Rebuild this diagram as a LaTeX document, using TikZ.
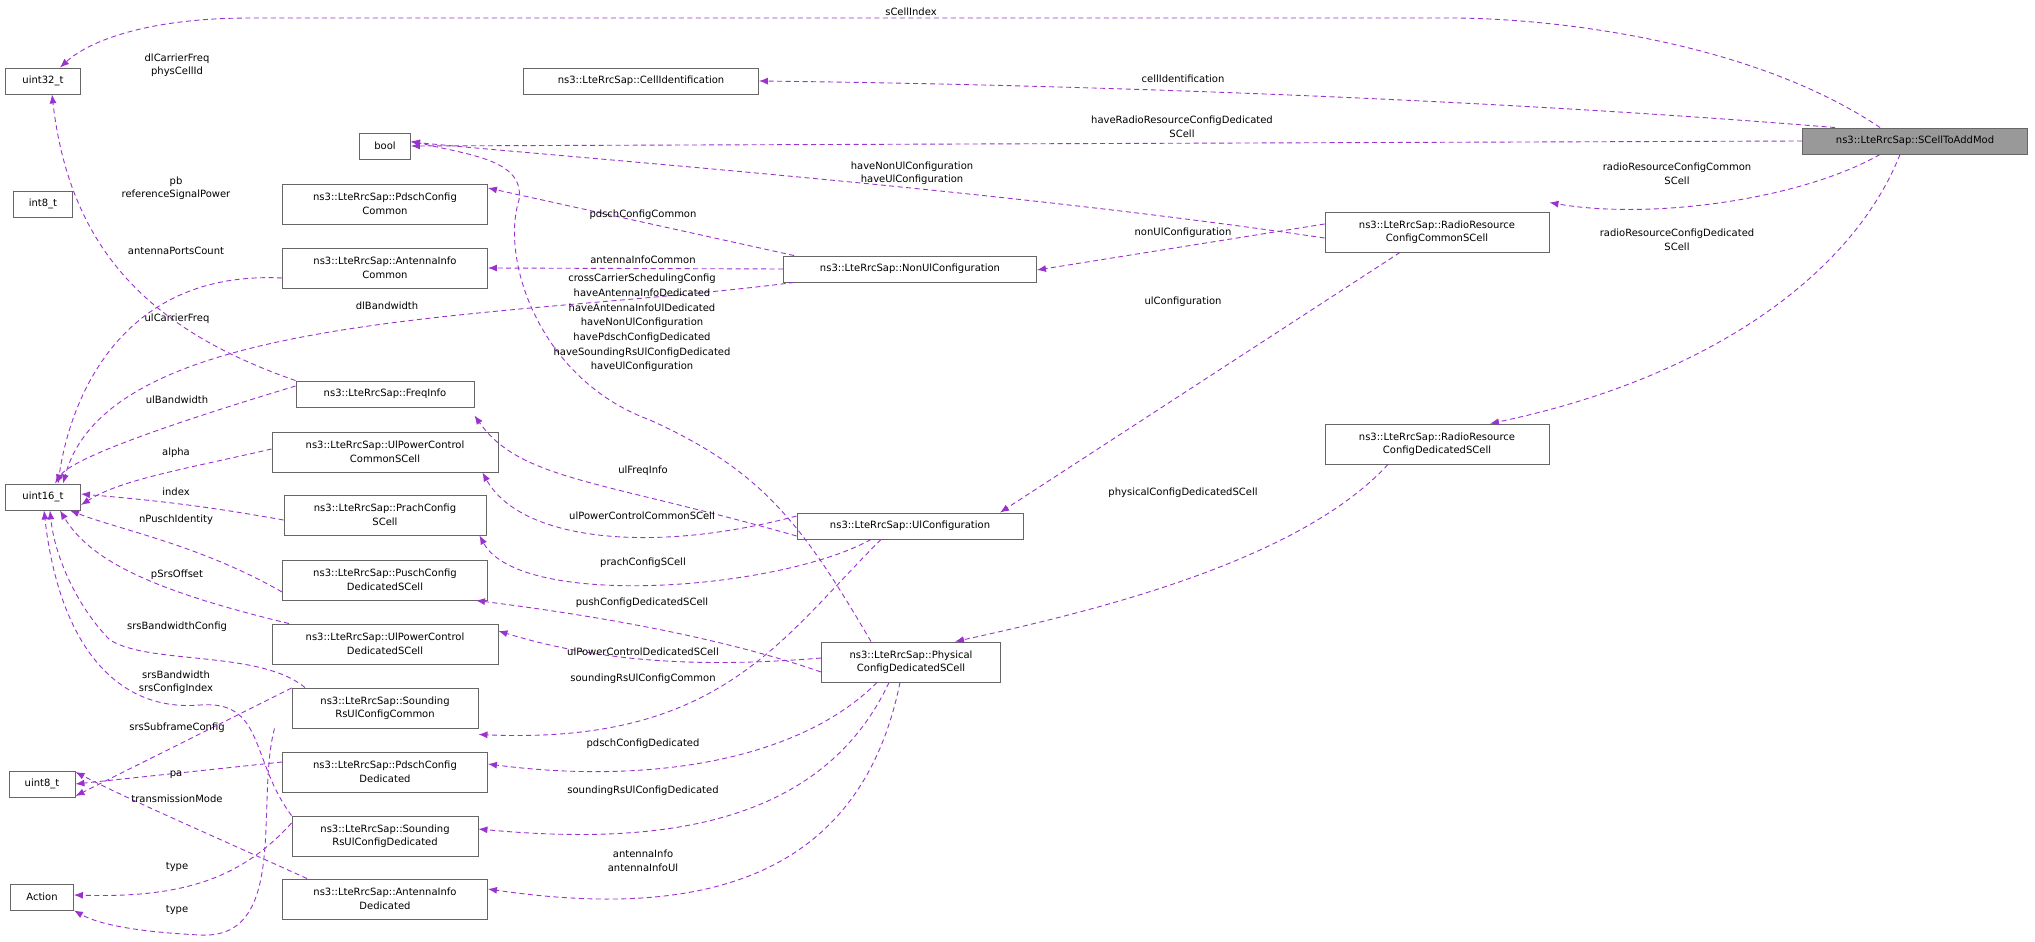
\documentclass[tikz,border=0pt]{standalone}
\usepackage{fontspec}
\setmainfont{DejaVu Sans}
\usetikzlibrary{arrows.meta}
\definecolor{edgec}{HTML}{9A32CD}
\definecolor{boxc}{HTML}{666666}
\begin{document}
\begin{tikzpicture}[x=1pt,y=-1pt,
  every node/.style={font=\fontsize{10}{13.5}\selectfont},
  cls/.style={draw=boxc,line width=0.9pt,fill=white,inner sep=2pt,align=center,minimum height=26pt},
  cls2/.style={cls,minimum height=40pt},
  lbl/.style={align=center,inner sep=0pt},
  edge/.style={draw=edgec,dashed,dash pattern=on 5pt off 3.5pt,line width=0.9pt,-{Latex[length=9pt,width=7pt]}}]
\useasboundingbox (0,0) rectangle (2035,942);
% nodes
\node[cls,minimum width=75pt] (u32) at (43,81) {uint32\_t};
\node[cls,minimum width=235pt] (cid) at (641,81) {ns3::LteRrcSap::CellIdentification};
\node[cls,minimum width=225pt,fill={rgb,255:red,153;green,153;blue,153}] (sc) at (1915,141) {ns3::LteRrcSap::SCellToAddMod};
\node[cls,minimum width=51pt] (bool) at (385,146) {bool};
\node[cls,minimum width=59pt] (i8) at (43,204) {int8\_t};
\node[cls2,minimum width=205pt] (pcc) at (385,204) {ns3::LteRrcSap::PdschConfig\\Common};
\node[cls2,minimum width=205pt] (aic) at (385,268) {ns3::LteRrcSap::AntennaInfo\\Common};
\node[cls,minimum width=253pt] (nonul) at (910,269) {ns3::LteRrcSap::NonUlConfiguration};
\node[cls2,minimum width=224pt] (rrc) at (1437,232) {ns3::LteRrcSap::RadioResource\\ConfigCommonSCell};
\node[cls2,minimum width=224pt] (rrd) at (1437,444) {ns3::LteRrcSap::RadioResource\\ConfigDedicatedSCell};
\node[cls,minimum width=178pt] (fi) at (385,394) {ns3::LteRrcSap::FreqInfo};
\node[cls,minimum width=75pt] (u16) at (43,497) {uint16\_t};
\node[cls2,minimum width=226pt] (upcc) at (385,452) {ns3::LteRrcSap::UlPowerControl\\CommonSCell};
\node[cls2,minimum width=202pt] (pra) at (385,515) {ns3::LteRrcSap::PrachConfig\\SCell};
\node[cls2,minimum width=205pt] (pus) at (385,580) {ns3::LteRrcSap::PuschConfig\\DedicatedSCell};
\node[cls2,minimum width=226pt] (upcd) at (385,644) {ns3::LteRrcSap::UlPowerControl\\DedicatedSCell};
\node[cls2,minimum width=186pt] (src) at (385,708) {ns3::LteRrcSap::Sounding\\RsUlConfigCommon};
\node[cls,minimum width=66pt] (u8) at (42,784) {uint8\_t};
\node[cls2,minimum width=205pt] (pdd) at (385,772) {ns3::LteRrcSap::PdschConfig\\Dedicated};
\node[cls2,minimum width=186pt] (srd) at (385,836) {ns3::LteRrcSap::Sounding\\RsUlConfigDedicated};
\node[cls,minimum width=63pt] (act) at (42,897) {Action};
\node[cls2,minimum width=205pt] (aid) at (385,899) {ns3::LteRrcSap::AntennaInfo\\Dedicated};
\node[cls,minimum width=226pt] (ulc) at (910,526) {ns3::LteRrcSap::UlConfiguration};
\node[cls2,minimum width=179pt] (phy) at (911,662) {ns3::LteRrcSap::Physical\\ConfigDedicatedSCell};
% edges
\begin{scope}[on background layer/.style={}]
\draw[edge] ([xshift=-35pt]sc.north) .. controls (1750,40) and (1550,18) .. (1450,18) -- (250,18) .. controls (150,18) and (90,40) .. ([xshift=17pt]u32.north);
\draw[edge] ([xshift=-80pt]sc.north) .. controls (1500,100) and (1100,85) .. (cid.east);
\draw[edge] (sc.west) -- (bool.east);
\draw[edge] ([xshift=-35pt]sc.south) .. controls (1800,200) and (1650,220) .. ([yshift=9pt]rrc.north east);
\draw[edge] ([xshift=-15pt]sc.south) .. controls (1850,280) and (1700,380) .. ([xshift=53pt]rrd.north);
\draw[edge] ([yshift=-6pt]rrc.west) .. controls (1000,190) and (600,160) .. ([yshift=4pt]bool.east);
\draw[edge] ([yshift=8pt]rrc.west) -- ([yshift=-1pt]nonul.east);
\draw[edge] ([xshift=-37pt]rrc.south) -- ([xshift=90pt]ulc.north);
\draw[edge] ([xshift=-49pt]rrd.south) .. controls (1300,560) and (1100,610) .. ([xshift=44pt]phy.north);
\draw[edge] ([xshift=11pt]nonul.north west) -- ([yshift=16pt]pcc.east);
\draw[edge] (nonul.west) -- (aic.east);
\draw[edge] ([xshift=11pt]nonul.south west) .. controls (500,320) and (110,310) .. ([xshift=20pt]u16.north);
\draw[edge] (fi.north west) .. controls (150,330) and (70,250) .. ([xshift=9pt]u32.south);
\draw[edge] ([yshift=-10pt]aic.west) .. controls (120,270) and (70,400) .. ([xshift=15pt]u16.north);
\draw[edge] ([yshift=8pt]fi.west) .. controls (150,430) and (70,460) .. ([xshift=12pt]u16.north);
\draw[edge] ([yshift=3pt]upcc.west) .. controls (180,470) and (120,480) .. ([yshift=-8pt]u16.east);
\draw[edge] ([yshift=-5pt]pra.west) .. controls (200,505) and (150,500) .. ([yshift=3pt]u16.east);
\draw[edge] ([yshift=-12pt]pus.west) .. controls (200,545) and (120,530) .. ([xshift=27pt]u16.south);
\draw[edge] ([xshift=-96pt]upcd.north) .. controls (150,590) and (90,560) .. ([xshift=17pt]u16.south);
\draw[edge] ([xshift=-80pt]src.north) .. controls (260,650) and (150,665) .. (110,640) .. controls (80,610) and (55,560) .. ([xshift=7pt]u16.south);
\draw[edge] (srd.north west) .. controls (250,760) and (265,700) .. (200,705) .. controls (120,712) and (60,650) .. ([xshift=1pt]u16.south);
\draw[edge] ([yshift=-10pt]ulc.west) .. controls (600,480) and (520,480) .. ([yshift=-8pt]fi.south east);
\draw[edge] ([yshift=10pt]ulc.west) .. controls (650,555) and (520,540) .. ([xshift=-16pt]upcc.south east);
\draw[edge] ([xshift=-39pt]ulc.south) .. controls (780,590) and (520,610) .. ([xshift=-7pt]pra.south east);
\draw[edge] ([xshift=-29pt]ulc.south) .. controls (780,640) and (720,745) .. ([yshift=-6pt]src.south east);
\draw[edge] ([xshift=-40pt]phy.north) .. controls (800,520) and (760,470) .. (650,420) .. controls (540,380) and (500,260) .. (519,200) .. controls (525,160) and (470,155) .. ([yshift=5pt]bool.east);
\draw[edge] ([yshift=-10pt]phy.west) .. controls (700,630) and (550,610) .. ([xshift=-12pt]pus.south east);
\draw[edge] ([yshift=4pt]phy.west) .. controls (700,668) and (600,662) .. ([yshift=13pt]upcd.east);
\draw[edge] ([xshift=-34pt]phy.south) .. controls (800,760) and (650,785) .. ([yshift=8pt]pdd.east);
\draw[edge] ([xshift=-22pt]phy.south) .. controls (820,830) and (650,845) .. ([yshift=7pt]srd.east);
\draw[edge] ([xshift=-11pt]phy.south) .. controls (860,880) and (700,920) .. ([yshift=10pt]aid.east);
\draw[edge] ([yshift=20pt]src.west) -- ([yshift=-12pt]u8.east);
\draw[edge] ([yshift=10pt]pdd.west) -- (u8.east);
\draw[edge] ([xshift=-78pt]aid.north) .. controls (200,830) and (130,800) .. ([yshift=12pt]u8.east);
\draw[edge] ([yshift=13pt]srd.west) .. controls (240,880) and (180,898) .. ([yshift=2pt]act.east);
\draw[edge] ([xshift=-17pt]src.south west) .. controls (255,800) and (290,940) .. (200,935) .. controls (140,932) and (100,925) .. (act.south east);
\end{scope}
% labels
\node[lbl] (l1) at (911,12) {sCellIndex};
\node[lbl] (l2) at (177,65) {dlCarrierFreq\\physCellId};
\node[lbl] (l3) at (1183,79) {cellIdentification};
\node[lbl] (l4) at (1182,127) {haveRadioResourceConfigDedicated\\SCell};
\node[lbl] (l5) at (912,173) {haveNonUlConfiguration\\haveUlConfiguration};
\node[lbl] (l6) at (1677,174) {radioResourceConfigCommon\\SCell};
\node[lbl] (l7) at (1677,240) {radioResourceConfigDedicated\\SCell};
\node[lbl] (l8) at (1183,233) {nonUlConfiguration};
\node[lbl] (l9) at (1183,302) {ulConfiguration};
\node[lbl] (l10) at (1183,493) {physicalConfigDedicatedSCell};
\node[lbl] (l11) at (176,188) {pb\\referenceSignalPower};
\node[lbl] (l12) at (643,215) {pdschConfigCommon};
\node[lbl] (l13) at (176,251) {antennaPortsCount};
\node[lbl] (l14) at (643,260) {antennaInfoCommon};
\node[lbl,font=\fontsize{10}{14.7}\selectfont] (l15) at (642,323) {crossCarrierSchedulingConfig\\haveAntennaInfoDedicated\\haveAntennaInfoUlDedicated\\haveNonUlConfiguration\\havePdschConfigDedicated\\haveSoundingRsUlConfigDedicated\\haveUlConfiguration};
\node[lbl] (l16) at (387,306) {dlBandwidth};
\node[lbl] (l17) at (177,319) {ulCarrierFreq};
\node[lbl] (l18) at (177,400) {ulBandwidth};
\node[lbl] (l19) at (176,453) {alpha};
\node[lbl] (l20) at (176,492) {index};
\node[lbl] (l21) at (176,520) {nPuschIdentity};
\node[lbl] (l22) at (177,575) {pSrsOffset};
\node[lbl] (l23) at (177,627) {srsBandwidthConfig};
\node[lbl] (l24) at (176,682) {srsBandwidth\\srsConfigIndex};
\node[lbl] (l25) at (177,728) {srsSubframeConfig};
\node[lbl] (l26) at (176,775) {pa};
\node[lbl] (l27) at (177,799) {transmissionMode};
\node[lbl] (l28) at (177,867) {type};
\node[lbl] (l29) at (177,910) {type};
\node[lbl] (l30) at (643,471) {ulFreqInfo};
\node[lbl] (l31) at (642,516) {ulPowerControlCommonSCell};
\node[lbl] (l32) at (643,563) {prachConfigSCell};
\node[lbl] (l33) at (642,603) {pushConfigDedicatedSCell};
\node[lbl] (l34) at (643,652) {ulPowerControlDedicatedSCell};
\node[lbl] (l35) at (643,679) {soundingRsUlConfigCommon};
\node[lbl] (l36) at (643,744) {pdschConfigDedicated};
\node[lbl] (l37) at (643,791) {soundingRsUlConfigDedicated};
\node[lbl] (l38) at (643,861) {antennaInfo\\antennaInfoUl};
\end{tikzpicture}
\end{document}
